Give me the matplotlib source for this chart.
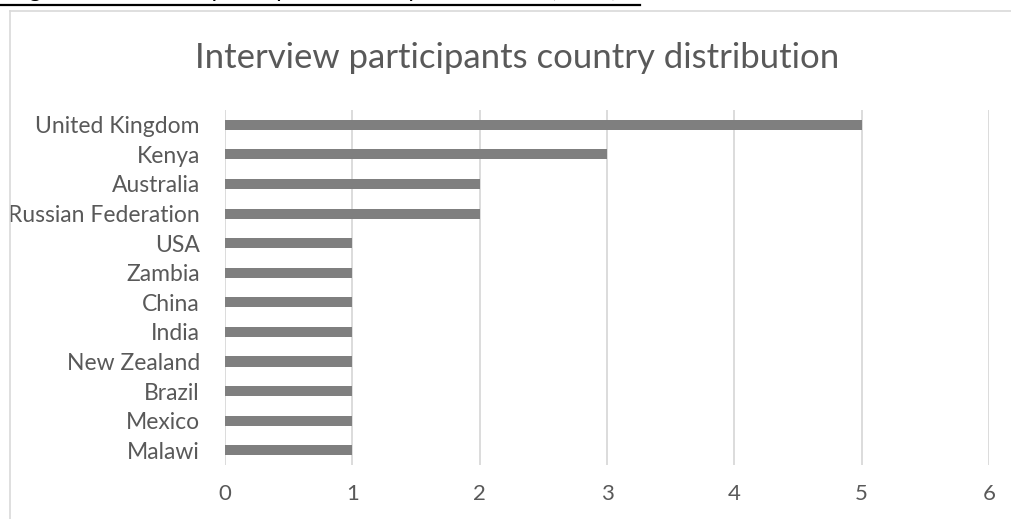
import matplotlib.pyplot as plt
from matplotlib.lines import Line2D

# Data (top to bottom)
countries = ['United Kingdom', 'Kenya', 'Australia', 'Russian Federation', 'USA',
             'Zambia', 'China', 'India', 'New Zealand', 'Brazil', 'Mexico', 'Malawi']
participants = [5, 3, 2, 2, 1, 1, 1, 1, 1, 1, 1, 1]
xticks = [0, 1, 2, 3, 4, 5, 6]

title = 'Interview participants country distribution'
caption = 'Figure 4: Interview participants country distribution (2019)'

plt.rcParams['font.family'] = ['Lato', 'DejaVu Sans']
txt_col = '#595959'
bar_col = '#7f7f7f'
grid_col = '#d9d9d9'

fig = plt.figure(figsize=(10.12, 5.19), dpi=100)
ax = fig.add_axes([0.2223, 0.104, 0.7550, 0.684])

ypos = list(range(len(countries)))
ax.barh(ypos, participants, height=0.34, color=bar_col, zorder=3)
ax.set_ylim(len(countries) - 0.5, -0.5)
ax.set_xlim(0, 6)
ax.set_xticks(xticks)
ax.set_yticks(ypos)
ax.set_yticklabels(countries)
ax.tick_params(axis='y', length=0, pad=18, labelsize=16.5, labelcolor=txt_col)
ax.tick_params(axis='x', length=0, pad=14, labelsize=16, labelcolor=txt_col)
ax.grid(axis='x', color=grid_col, linewidth=1.3, zorder=0)
ax.grid(axis='y', visible=False)
for s in ax.spines.values():
    s.set_visible(False)

fig.text(0.5114, 0.888, title, ha='center', va='center', fontsize=25, color=txt_col)

# chart frame (only top and left edges fall inside the picture)
fig.add_artist(Line2D([10 / 1012, 1.0], [1 - 11 / 519] * 2, color=grid_col, lw=1.2))
fig.add_artist(Line2D([10 / 1012] * 2, [0, 1 - 11 / 519], color=grid_col, lw=1.2))

# clipped caption above the chart, only its descenders and underline show
fig.text(10 / 1012, 1 + 3 / 519, caption, ha='left', va='baseline', fontsize=17, color='black')
fig.add_artist(Line2D([0, 640 / 1012], [1 - 4.5 / 519] * 2, color='black', lw=1.6))

fig.savefig('out.png', dpi=100)
